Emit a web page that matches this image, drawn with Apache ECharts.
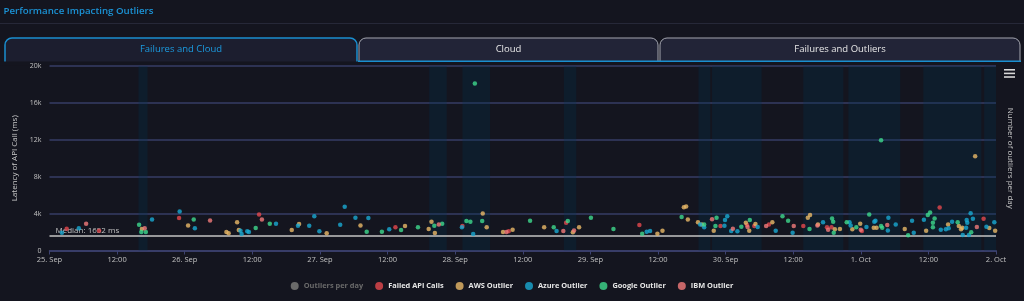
<!DOCTYPE html>
<html>
<head>
<meta charset="utf-8">
<script src="https://cdn.jsdelivr.net/npm/echarts@6/dist/echarts.min.js"></script>
<style>
  html, body { margin: 0; padding: 0; background: #14151f; }
  #main { width: 1024px; height: 301px; }
</style>
</head>
<body>
<div id="main"></div>
<script>
// x values are hours since 25 Sep 00:00, y values are latency in ms
const dayLabels = ['25. Sep', '26. Sep', '27. Sep', '28. Sep', '29. Sep', '30. Sep', '1. Oct', '2. Oct'];
const legendNames = ['Outliers per day', 'Failed API Calls', 'AWS Outlier', 'Azure Outlier', 'Google Outlier', 'IBM Outlier'];
const medianMs = 1652;

// shaded periods (hours)
const bandStart = [15.8, 67.4, 73.3, 91.3, 115.2, 117.6, 133.8, 141.8, 155.1, 165.9];
const bandEnd = [17.4, 70.5, 78.2, 93.5, 117.3, 126.4, 140.9, 151.0, 165.4, 168];

const outliersPerDay = [];

const failedHours = [3.05, 8.8, 23.0, 37.2, 61.4, 73.3, 81.5, 91.7, 104.7, 119.1, 123.8, 125.1, 127.7, 133.8, 138.0, 138.8, 144.2, 158.0, 165.8];
const failedMs = [2360, 2140, 3510, 3910, 2510, 2650, 2080, 3010, 2760, 2650, 2760, 2650, 2830, 2650, 2510, 2510, 2110, 4670, 3440];

const ibmHours = [6.5, 16.9, 28.5, 37.7, 69.1, 81.1, 91.2, 93.1, 117.6, 121.3, 123.9, 127.2, 132.1, 136.3, 138.2, 144.0, 148.7, 164.6];
const ibmMs = [2900, 2400, 3260, 3370, 2830, 2000, 2110, 2180, 3400, 2360, 2540, 2650, 2650, 2720, 2250, 2250, 2760, 2540];

const awsHours = [16.4, 24.6, 31.4, 31.8, 33.3, 33.6, 43.0, 44.3, 49.2, 55.2, 63.1, 67.3, 67.8, 68.4, 76.9, 77.6, 80.5, 82.2, 87.8, 92.9,
  94.0, 107.9, 108.8, 112.6, 113.0, 113.3, 115.1, 115.8, 117.9, 123.6, 124.2, 125.3, 128.3, 134.6, 135.0, 136.4, 139.4, 140.3, 142.5, 143.9,
  146.3, 146.8, 151.8, 155.6, 159.5, 161.4, 161.8, 162.0, 164.3, 166.8, 167.85];
const awsMs = [2320, 2720, 2000, 1860, 3050, 2220, 2220, 2860, 1860, 2720, 2650, 2320, 3110, 1890, 4020, 2510, 2000, 2250, 2510, 1970,
  2510, 1820, 2140, 4700, 4780, 3370, 3050, 2830, 2140, 3010, 2140, 2860, 3050, 3550, 3840, 2830, 2290, 2320, 2290, 2900,
  2470, 2470, 2320, 2140, 2830, 2650, 2290, 2470, 10220, 2430, 2140];

const azureHours = [2.2, 5.2, 18.2, 23.1, 25.8, 33.9, 34.1, 35.1, 35.4, 40.2, 44.1, 46.1, 47.0, 47.9, 51.6, 52.4, 54.3, 56.6, 60.3, 73.2,
  75.2, 90.0, 106.0, 106.6, 115.5, 116.2, 119.8, 119.9, 120.3, 121.0, 122.1, 125.7, 128.9, 131.9, 137.3, 142.0, 142.2, 145.0, 146.4, 146.6,
  148.8, 148.9, 150.2, 153.1, 153.4, 155.2, 158.2, 159.1, 159.6, 160.2, 162.1, 162.7, 162.8, 162.9, 163.2, 163.5, 163.9, 166.3, 167.7];
const azureMs = [1920, 2400, 3370, 4240, 2400, 2140, 1780, 2080, 2000, 2900, 2680, 2680, 3700, 2080, 2790, 4740, 3550, 3510, 2290, 2510,
  1780, 2110, 2040, 2110, 2830, 2510, 2680, 3300, 3700, 2110, 2080, 2540, 2140, 1920, 3050, 3050, 2720, 2540, 3110, 3220,
  2180, 3550, 2830, 3220, 1920, 3330, 2250, 2290, 2400, 3110, 1680, 2470, 3300, 3010, 1680, 4050, 3440, 2580, 3050];

const googleHours = [15.9, 16.3, 17.1, 25.6, 36.6, 39.1, 56.3, 59.0, 62.4, 65.4, 68.3, 69.7, 74.0, 74.7, 75.5, 76.8, 85.3, 89.5, 92.0, 96.1,
  100.1, 105.2, 112.2, 116.2, 118.2, 118.4, 122.8, 124.3, 130.1, 131.1, 134.9, 138.9, 139.1, 139.2, 141.5, 143.2, 145.5, 147.6, 147.6, 147.8,
  152.4, 155.9, 156.3, 156.8, 156.8, 157.1, 161.2, 163.6];
const googleMs = [2790, 2000, 2000, 3370, 2430, 2900, 2040, 2040, 2220, 2510, 2680, 2900, 3190, 3110, 18100, 3190, 3220, 2510, 3190, 3550,
  2320, 1820, 3620, 2830, 2650, 3550, 2580, 3300, 3700, 3220, 2320, 3480, 3110, 1920, 3050, 2510, 3910, 11950, 2650, 2470,
  1640, 3840, 4130, 3010, 2510, 3480, 3050, 1970];

const colors = ['#7a7a7a', '#e5484d', '#eab968', '#19a9d2', '#3ed98d', '#f27a7a'];

function pairs(xs, ys) {
  return xs.map((x, i) => [x, ys[i]]);
}

const bands = bandStart.map((s, i) => [{ xAxis: s }, { xAxis: bandEnd[i] }]);

const textFont = '"Open Sans", "DejaVu Sans", sans-serif';
const chart = echarts.init(document.getElementById('main'), null, { renderer: 'canvas' });

function scatter(name, xs, ys) {
  return {
    name: name,
    type: 'scatter',
    symbolSize: 4.5,
    data: pairs(xs, ys),
    z: 5
  };
}

const azureSeries = scatter('Azure Outlier', azureHours, azureMs);
azureSeries.markArea = {
  silent: true,
  itemStyle: { color: 'rgba(0, 50, 80, 0.27)' },
  data: bands
};
azureSeries.markLine = {
  silent: true,
  symbol: 'none',
  lineStyle: { color: '#c4c4c4', width: 1.5, type: 'solid' },
  label: {
    position: 'insideStartTop',
    formatter: 'Median: ' + medianMs + ' ms',
    color: '#c0c0c0',
    fontSize: 8,
    fontFamily: textFont,
    distance: [6, 1]
  },
  data: [{ yAxis: medianMs }]
};

chart.setOption({
  backgroundColor: '#14151f',
  animation: false,
  color: colors,
  textStyle: { fontFamily: textFont },
  grid: { left: 49.5, right: 28, top: 66, bottom: 50.5 },
  legend: {
    data: legendNames,
    top: 277,
    left: 'center',
    icon: 'circle',
    itemWidth: 8,
    itemHeight: 8,
    itemGap: 12,
    inactiveColor: '#6a6a6a',
    selected: { 'Outliers per day': false },
    textStyle: { color: '#e6e6e6', fontSize: 7.4, fontWeight: 'bold', fontFamily: textFont }
  },
  xAxis: {
    type: 'value',
    min: 0,
    max: 168,
    interval: 12,
    axisLine: { lineStyle: { color: '#3d4270', width: 1.5 } },
    axisTick: { show: true, length: 4, lineStyle: { color: '#3d4270' } },
    splitLine: { show: false },
    axisLabel: {
      color: '#c0c0c0',
      fontSize: 7.5,
      margin: 5,
      formatter: v => (v % 24 === 0 ? dayLabels[v / 24] : '12:00')
    }
  },
  yAxis: [
    {
      type: 'value',
      min: 0,
      max: 20000,
      interval: 4000,
      name: 'Latency of API Call (ms)',
      nameLocation: 'middle',
      nameGap: 27,
      nameTextStyle: { color: '#c8c8c8', fontSize: 8 },
      axisLine: { show: false },
      axisTick: { show: false },
      splitLine: { lineStyle: { color: '#363c66', width: 1.5 } },
      axisLabel: {
        color: '#c0c0c0',
        fontSize: 7,
        margin: 8,
        padding: [0, 0, 7, 0],
        formatter: v => (v === 0 ? '0' : v / 1000 + 'k')
      }
    },
    {
      type: 'value',
      position: 'right',
      name: 'Number of outliers per day',
      nameLocation: 'middle',
      nameRotate: -90,
      nameGap: 10,
      nameTextStyle: { color: '#c8c8c8', fontSize: 8 },
      axisLine: { show: false },
      axisTick: { show: false },
      axisLabel: { show: false },
      splitLine: { show: false }
    }
  ],
  series: [
    { name: 'Outliers per day', type: 'bar', yAxisIndex: 1, data: outliersPerDay },
    scatter('Failed API Calls', failedHours, failedMs),
    scatter('AWS Outlier', awsHours, awsMs),
    azureSeries,
    scatter('Google Outlier', googleHours, googleMs),
    scatter('IBM Outlier', ibmHours, ibmMs)
  ],
  graphic: [
    { type: 'text', left: 3.5, top: 6, style: { text: 'Performance Impacting Outliers', fill: '#1b93d6', font: '600 9.7px ' + textFont } },
    { type: 'rect', shape: { x: 0, y: 23, width: 1024, height: 1 }, style: { fill: '#262838' } },
    // tabs
    { type: 'rect', shape: { x: 359, y: 38, width: 299, height: 26, r: [7, 7, 0, 0] }, style: { fill: '#222437', stroke: '#a4a6b0', lineWidth: 1 } },
    { type: 'rect', shape: { x: 660, y: 38, width: 360, height: 26, r: [7, 7, 0, 0] }, style: { fill: '#222437', stroke: '#a4a6b0', lineWidth: 1 } },
    { type: 'rect', shape: { x: 5, y: 38, width: 352, height: 26, r: [7, 7, 0, 0] }, style: { fill: '#1c1e2f', stroke: '#1a8fd0', lineWidth: 1.5 } },
    { type: 'rect', shape: { x: 0, y: 61.5, width: 1024, height: 4 }, style: { fill: '#14151f' } },
    { type: 'rect', shape: { x: 358, y: 60.5, width: 663, height: 1.5 }, style: { fill: '#1a8fd0' } },
    { type: 'text', x: 181, y: 49.5, style: { text: 'Failures and Cloud', fill: '#1b9be0', font: '9.5px ' + textFont, textAlign: 'center', textVerticalAlign: 'middle' } },
    { type: 'text', x: 508.5, y: 49.5, style: { text: 'Cloud', fill: '#e8e8e8', font: '9.5px ' + textFont, textAlign: 'center', textVerticalAlign: 'middle' } },
    { type: 'text', x: 840, y: 49.5, style: { text: 'Failures and Outliers', fill: '#e8e8e8', font: '9.5px ' + textFont, textAlign: 'center', textVerticalAlign: 'middle' } },
    // menu icon
    { type: 'rect', shape: { x: 1004, y: 69, width: 11, height: 1.6 }, style: { fill: '#d8d8d8' } },
    { type: 'rect', shape: { x: 1004, y: 72.6, width: 11, height: 1.6 }, style: { fill: '#d8d8d8' } },
    { type: 'rect', shape: { x: 1004, y: 76.2, width: 11, height: 1.6 }, style: { fill: '#d8d8d8' } }
  ]
});
</script>
</body>
</html>
